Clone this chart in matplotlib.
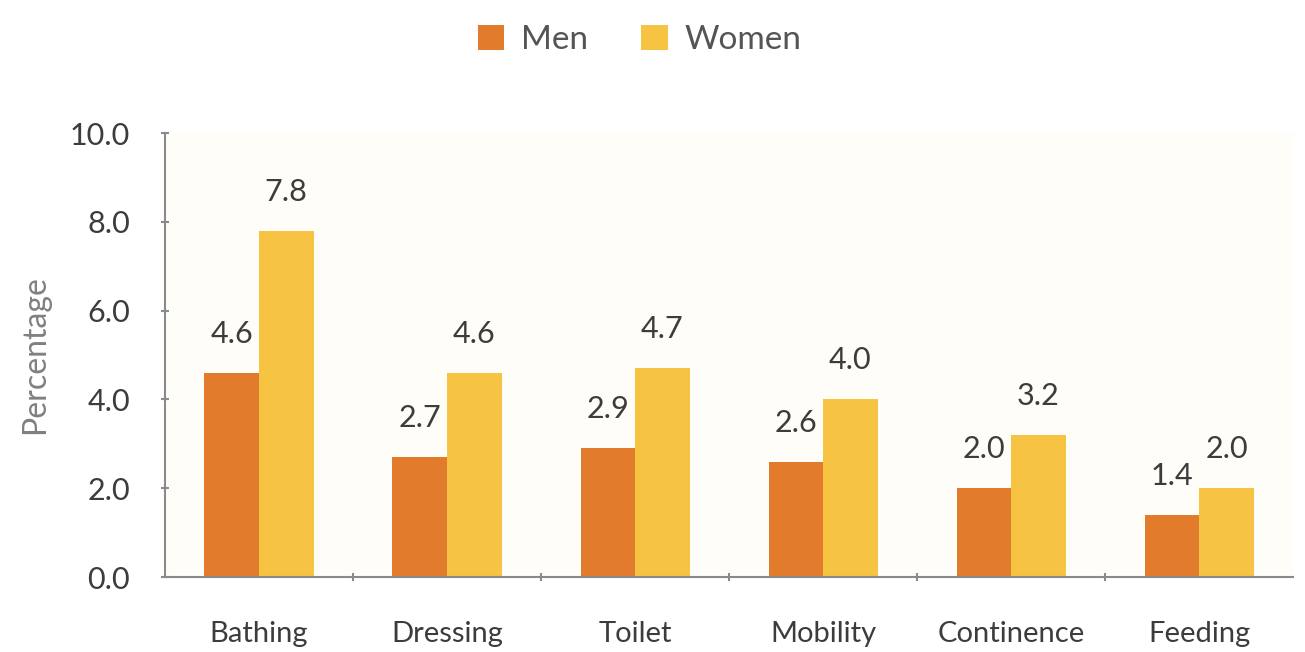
import matplotlib.pyplot as plt
import numpy as np

# share of older adults needing help, by activity and sex
activities = ["Bathing", "Dressing", "Toilet", "Mobility", "Continence", "Feeding"]
men = [4.6, 2.7, 2.9, 2.6, 2.0, 1.4]
women = [7.8, 4.6, 4.7, 4.0, 3.2, 2.0]

men_color = "#E27B2C"
women_color = "#F6C343"
text_color = "#3c3c3c"

plt.rcParams["font.family"] = ["Lato", "DejaVu Sans"]

fig = plt.figure(figsize=(13.05, 6.52), dpi=100)
ax = fig.add_axes([0.1264, 0.115, 0.8646, 0.681])
ax.set_facecolor("#FFFDF7")

x = np.arange(len(activities))
w = 0.29
b1 = ax.bar(x - w / 2, men, w, color=men_color, label="Men")
b2 = ax.bar(x + w / 2, women, w, color=women_color, label="Women")

# value labels above each bar
for bars, vals in ((b1, men), (b2, women)):
    for rect, v in zip(bars, vals):
        ax.annotate(f"{v:.1f}", (rect.get_x() + rect.get_width() / 2, v),
                    xytext=(0, 18), textcoords="offset points",
                    ha="center", va="bottom", fontsize=22, color=text_color)

ax.set_xlim(-0.5, len(activities) - 0.5)
ax.set_ylim(0, 10)
ax.set_yticks(np.arange(0, 10.1, 2))
ax.set_yticklabels([f"{t:.1f}" for t in np.arange(0, 10.1, 2)])
ax.set_xticks(x)
ax.set_xticklabels(activities)
ax.set_xticks(np.arange(0.5, len(activities) - 0.5, 1), minor=True)

for s in ("top", "right"):
    ax.spines[s].set_visible(False)
for s in ("left", "bottom"):
    ax.spines[s].set_color("#8a8a8a")
    ax.spines[s].set_linewidth(1.5)

ax.tick_params(axis="y", labelsize=22, labelcolor=text_color, color="#8a8a8a",
               length=6, width=1.5, direction="inout", pad=22)
ax.tick_params(axis="x", which="major", length=0, labelsize=21,
               labelcolor=text_color, pad=32)
ax.tick_params(axis="x", which="minor", length=6, width=1.5, color="#8a8a8a",
               direction="inout")

ax.set_ylabel("Percentage", fontsize=23, color="#808080", labelpad=14)

fig.legend(loc="upper center", bbox_to_anchor=(0.49, 1.008), ncol=2, frameon=False,
           fontsize=24, handlelength=0.8, handleheight=0.8, columnspacing=1.6,
           handletextpad=0.5, labelcolor="#555555")

fig.savefig("out.png", dpi=100, facecolor="white")
